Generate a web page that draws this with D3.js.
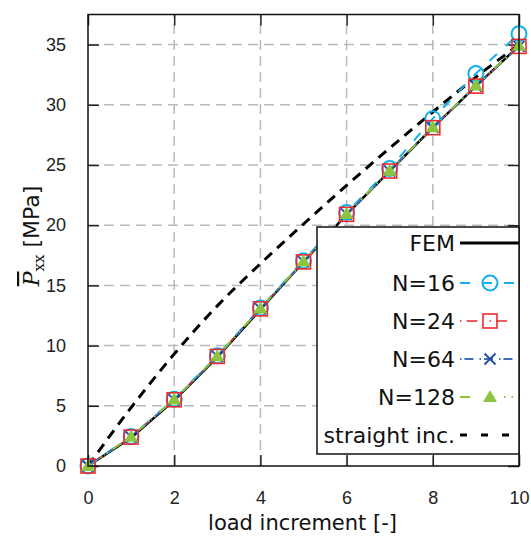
<!DOCTYPE html>
<html><head><meta charset="utf-8">
<script src="https://cdn.jsdelivr.net/npm/d3@7"></script>
<style>body{margin:0;background:#fff}svg{display:block}</style>
</head><body>
<svg id="c" width="531" height="541"></svg>
<script>
const loadInc = [0,1,2,3,4,5,6,7,8,9,10];
const femVals = [0,2.35,5.45,9.05,13.0,16.95,20.9,24.5,28.1,31.55,34.9];
const n16Vals = [0,2.45,5.55,9.15,13.12,17.05,21.05,24.7,28.85,32.6,35.9];
const n24Vals = [0,2.4,5.5,9.1,13.05,16.95,20.9,24.5,28.1,31.55,34.85];
const n64Vals = [0,2.42,5.5,9.1,13.07,16.97,20.92,24.5,28.12,31.55,34.85];
const n128Vals = [0,2.43,5.52,9.12,13.08,16.98,20.94,24.52,28.14,31.6,34.9];
const straightVals = [0,4.85,9.3,13.3,16.8,20.1,23.3,26.4,29.4,32.3,35.0];
const xTickVals = [0,2,4,6,8,10];
const yTickVals = [0,5,10,15,20,25,30,35];
const legendLabels = ["FEM","N=16","N=24","N=64","N=128","straight inc."];

const svg = d3.select("#c");
const L=88, R=519, T=14.5, B=466;
const x = d3.scaleLinear().domain([0,10]).range([L,R]);
const y = d3.scaleLinear().domain([0,37.5]).range([B,T]);

const gridCol = "#b5bbc0";
svg.append("g").selectAll("line").data(xTickVals.slice(1,-1)).join("line")
  .attr("x1",d=>x(d)).attr("x2",d=>x(d)).attr("y1",B).attr("y2",T)
  .attr("stroke",gridCol).attr("stroke-width",1.5).attr("stroke-dasharray","10,6");
svg.append("g").selectAll("line").data(yTickVals.slice(1)).join("line")
  .attr("y1",d=>y(d)).attr("y2",d=>y(d)).attr("x1",L).attr("x2",R)
  .attr("stroke",gridCol).attr("stroke-width",1.5).attr("stroke-dasharray","10,6");

const tk = 11;
const xAxB = d3.axisBottom(x).tickValues(xTickVals).tickSize(-tk).tickPadding(tk+14).tickFormat(d3.format("d"));
const yAxL = d3.axisLeft(y).tickValues(yTickVals).tickSize(-tk).tickPadding(tk+11).tickFormat(d3.format("d"));
const xAxT = d3.axisTop(x).tickValues(xTickVals).tickSize(-tk).tickFormat("");
const yAxR = d3.axisRight(y).tickValues(yTickVals).tickSize(-tk).tickFormat("");
function styleAx(g){
  g.select(".domain").remove();
  g.selectAll(".tick line").attr("stroke","#222").attr("stroke-width",1.5);
  g.selectAll("text").attr("fill","#222").style("font-family","'Liberation Sans',Arial,sans-serif").style("font-size","18px");
}
svg.append("g").attr("transform",`translate(0,${B})`).call(xAxB).call(styleAx);
svg.append("g").attr("transform",`translate(${L},0)`).call(yAxL).call(styleAx);
svg.append("g").attr("transform",`translate(0,${T})`).call(xAxT).call(styleAx);
svg.append("g").attr("transform",`translate(${R},0)`).call(yAxR).call(styleAx);

svg.append("clipPath").attr("id","clp").append("rect").attr("x",L).attr("y",T).attr("width",R-L).attr("height",B-T);

const series = [
  {name:legendLabels[5], vals:straightVals, color:"#000", dash:"10,7", w:3, marker:null, ldash:"7,14", smooth:true},
  {name:legendLabels[0], vals:femVals, color:"#000", dash:null, w:2.5, marker:null, ldash:null},
  {name:legendLabels[1], vals:n16Vals, color:"#12b0ec", dash:"10,12", w:2, marker:"circle", ldash:"10,12"},
  {name:legendLabels[2], vals:n24Vals, color:"#f0282d", dash:"1.5,5,11,12", w:1.5, marker:"square", ldash:"1.5,5,11,12"},
  {name:legendLabels[3], vals:n64Vals, color:"#3f6fb5", dash:"1.5,3,9,6", w:2, marker:"cross", ldash:"1.5,3,9,6"},
  {name:legendLabels[4], vals:n128Vals, color:"#8cc43f", dash:"10,5,1.5,6,1.5,6", w:2, marker:"tri", ldash:"10,34,1.5,6,1.5,6"}
];

const line = d3.line().x((d,i)=>x(loadInc[i])).y(d=>y(d));
const smoothLine = d3.line().x((d,i)=>x(loadInc[i])).y(d=>y(d)).curve(d3.curveMonotoneX);
const lineG = svg.append("g").attr("clip-path","url(#clp)");
series.forEach(s=>{
  lineG.append("path").attr("d",(s.smooth?smoothLine:line)(s.vals)).attr("fill","none")
    .attr("stroke",s.color).attr("stroke-width",s.w)
    .attr("stroke-dasharray",s.dash);
});

function drawMarker(g, type, cx, cy, color){
  if(type==="circle"){
    g.append("circle").attr("cx",cx).attr("cy",cy).attr("r",7.5).attr("fill","none").attr("stroke",color).attr("stroke-width",2);
  } else if(type==="square"){
    g.append("rect").attr("x",cx-7).attr("y",cy-7).attr("width",14).attr("height",14).attr("fill","none").attr("stroke",color).attr("stroke-width",1.6);
  } else if(type==="cross"){
    const r=5.5;
    g.append("path").attr("d",`M${cx-r},${cy-r}L${cx+r},${cy+r}M${cx-r},${cy+r}L${cx+r},${cy-r}`).attr("stroke","#1f4f9e").attr("stroke-width",1.8).attr("fill","none");
  } else if(type==="tri"){
    g.append("path").attr("d",`M${cx},${cy-7}L${cx+7},${cy+5}L${cx-7},${cy+5}Z`).attr("fill",color);
  }
}
const mG = svg.append("g");
series.forEach(s=>{
  if(!s.marker) return;
  s.vals.forEach((v,i)=>drawMarker(mG, s.marker, x(loadInc[i]), y(v), s.color));
});

svg.append("rect").attr("x",L).attr("y",T).attr("width",R-L).attr("height",B-T)
  .attr("fill","none").attr("stroke","#111").attr("stroke-width",1.5);

const lg = svg.append("g");
lg.append("rect").attr("x",317).attr("y",227).attr("width",R-317).attr("height",227)
  .attr("fill","#fff").attr("stroke","#111").attr("stroke-width",1.5);
const legOrder = [1,2,3,4,5,0];
const rowY = [243,283,321,359,397,435];
legOrder.forEach((si,k)=>{
  const s = series[si];
  const yy = rowY[k];
  lg.append("text").attr("x",455).attr("y",yy).attr("dy","0.35em").attr("text-anchor","end")
    .style("font-family","'DejaVu Sans',sans-serif").style("font-size","22px").attr("fill","#111").text(s.name);
  lg.append("line").attr("x1",460).attr("x2",519).attr("y1",yy).attr("y2",yy)
    .attr("stroke",s.color).attr("stroke-width",s.marker?s.w:3).attr("stroke-dasharray",s.ldash);
  if(s.marker) drawMarker(lg, s.marker, 490, yy, s.color);
});

svg.append("text").attr("x",(L+R)/2-1).attr("y",530).attr("text-anchor","middle")
  .style("font-family","'DejaVu Sans',sans-serif").style("font-size","21px").attr("fill","#111")
  .text("load increment [-]");

const yl = svg.append("text").attr("transform","translate(39,236) rotate(-90)").attr("text-anchor","middle")
  .style("font-size","22px").attr("fill","#111");
yl.append("tspan").style("font-family","'DejaVu Serif',serif").style("font-style","italic")
  .style("text-decoration","overline").text("P");
yl.append("tspan").style("font-family","'DejaVu Serif',serif").style("font-size","15px").attr("dy","5").text("xx");
yl.append("tspan").style("font-family","'DejaVu Sans',sans-serif").attr("dy","-5").text(" [MPa]");
</script>
</body></html>
